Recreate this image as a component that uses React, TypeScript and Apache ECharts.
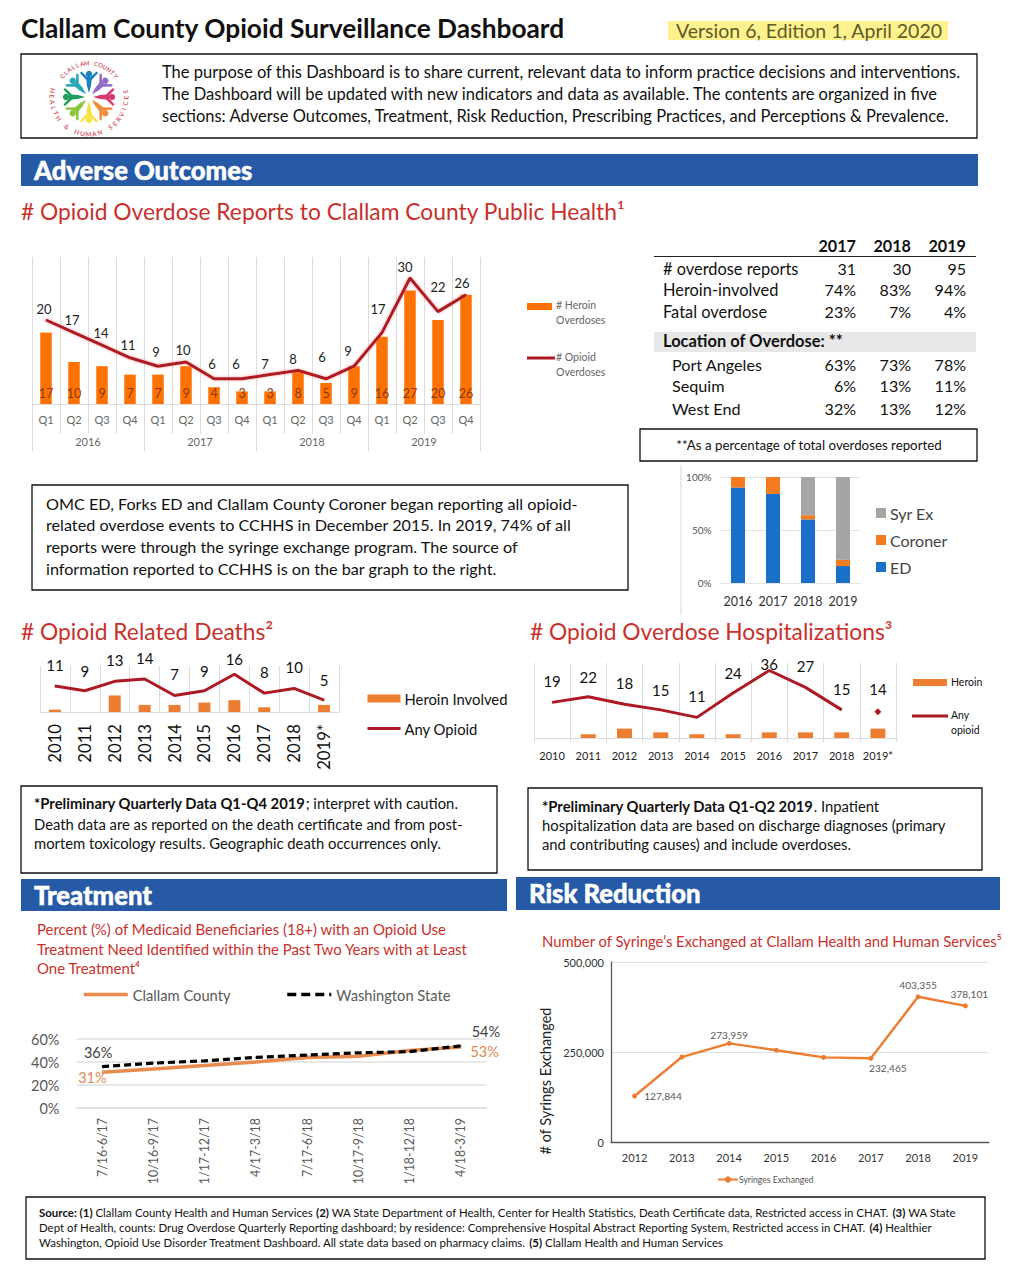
import React, { useEffect, useRef } from "react";
import * as echarts from "echarts";

const F = "Lato, 'Noto Sans', sans-serif";

// ---- data ----
const quarters = ["Q1","Q2","Q3","Q4","Q1","Q2","Q3","Q4","Q1","Q2","Q3","Q4","Q1","Q2","Q3","Q4"];
const overdoseYears = ["2016","2017","2018","2019"];
const heroinOverdoses = [17,10,9,7,7,9,4,3,3,8,5,9,16,27,20,26];
const opioidOverdoses = [20,17,14,11,9,10,6,6,7,8,6,9,17,30,22,26];
const sourceYears = ["2016","2017","2018","2019"];
const sourceED = [90,84,60,16];
const sourceCoroner = [10,16,4,6];
const sourceSyrEx = [0,0,36,78];
const deathYears = ["2010","2011","2012","2013","2014","2015","2016","2017","2018","2019*"];
const deathsHeroin = [1,0,7,3,3,4,5,2,0,3];
const deathsOpioid = [11,9,13,14,7,9,16,8,10,5];
const hospYears = ["2010","2011","2012","2013","2014","2015","2016","2017","2018","2019*"];
const hospHeroin = [0,2,5,3,2,2,3,3,3,5];
const hospOpioid = [19,22,18,15,11,24,36,27,15,null];
const hospPrelim = [null,null,null,null,null,null,null,null,null,14];
const treatPeriods = ["7/16-6/17","10/16-9/17","1/17-12/17","4/17-3/18","7/17-6/18","10/17-9/18","1/18-12/18","4/18-3/19"];
const treatClallam = [31,34,37,40,44,45,50,53];
const treatWA = [36,39,41,44,46,48,49,54];
const syringeYears = ["2012","2013","2014","2015","2016","2017","2018","2019"];
const syringes = [127844,236000,273959,255000,235000,232465,403355,378101];
const tableYears = ["2017","2018","2019"];
const tableTop = [
  ["# overdose reports","31","30","95"],
  ["Heroin-involved","74%","83%","94%"],
  ["Fatal overdose","23%","7%","4%"],
];
const tableLoc = [
  ["Port Angeles","63%","73%","78%"],
  ["Sequim","6%","13%","11%"],
  ["West End","32%","13%","12%"],
];
const introLines = [
  "The purpose of this Dashboard is to share current, relevant data to inform practice decisions and interventions.",
  "The Dashboard will be updated with new indicators and data as available. The contents are organized in five",
  "sections: Adverse Outcomes, Treatment, Risk Reduction, Prescribing Practices, and Perceptions & Prevalence.",
];
const omcLines = [
  "OMC ED, Forks ED and Clallam County Coroner began reporting all opioid-",
  "related overdose events to CCHHS in December 2015. In 2019, 74% of all",
  "reports were through the syringe exchange program. The source of",
  "information reported to CCHHS is on the bar graph to the right.",
];
const deathNotes = [
  "Death data are as reported on the death certificate and from post-",
  "mortem toxicology results. Geographic death occurrences only.",
];
const hospNotes = [
  "hospitalization data are based on discharge diagnoses (primary",
  "and contributing causes) and include overdoses.",
];
const treatHeading = [
  "Percent (%) of Medicaid Beneficiaries (18+) with an Opioid Use",
  "Treatment Need Identified within the Past Two Years with at Least",
  "One Treatment\u2074",
];

// ---- label placement (style only) ----
const odLabelDx = [-2,-2,-1,-2,-2,-3,-2,-6,-5,-5,-4,-6,-4,-5,0,-4];
const odLabelDy = [12,14,13,14,15,13,16,16,12,12,23,16,25,12,26,13];
const hospLabelDy = [21,20,21,20,21,20,7,21,21];
const deathLabelDy = [0,1,0,0,0,1,6,0,0,1];

// ---- colours ----
const RED = "#ad1a24";
const BLUE_BAND = "#2659a6";
const HEAD_RED = "#c9302c";
const ORANGE = "#ed7d31";
const CLALLAM = "#e88b4f";
const HIDE_SYMBOL = { color: "transparent", borderWidth: 0 };

const T = (text: string, x: number, y: number, size: number, o: any = {}) => ({
  type: "text", x, y: y - 0.8, silent: true,
  style: { text, fontSize: size, fontFamily: F, fill: "#111", textAlign: "left", textVerticalAlign: "middle", align: "left", verticalAlign: "middle", ...o },
});
const TR = (text: string, x: number, y: number, size: number, o: any = {}) =>
  T(text, x, y, size, { textAlign: "right", align: "right", ...o });
const Box = (x1: number, y1: number, x2: number, y2: number, o: any = {}) => ({
  type: "rect", silent: true, shape: { x: x1, y: y1, width: x2 - x1, height: y2 - y1 },
  style: { fill: "none", stroke: "#111", lineWidth: 1.3, ...o },
});
const Band = (x1: number, y1: number, x2: number, y2: number, text: string, tx: number) => [
  Box(x1, y1, x2, y2, { fill: BLUE_BAND, stroke: "none" }),
  T(text, tx, (y1 + y2) / 2 + 0.5, 25.6, { fill: "#fff", fontWeight: 900, stroke: "#fff", lineWidth: 0.5 }),
];
const L = (x1: number, y1: number, x2: number, y2: number, stroke: string, lineWidth: number) => ({
  type: "line", silent: true, shape: { x1, y1, x2, y2 }, style: { stroke, lineWidth },
});

function logo(cx: number, cy: number) {
  const colors = ["#1d7fbe","#8f6bc9","#d6396b","#f08a3c","#f7e145","#8cc63f","#1d9e5f","#27a6b8"];
  const els: any[] = [];
  colors.forEach((c, i) => {
    els.push({
      type: "group", x: cx, y: cy, rotation: (-i * Math.PI) / 4, silent: true,
      children: [
        { type: "circle", shape: { cx: 0, cy: -23, r: 3.2 }, style: { fill: c } },
        { type: "polygon", shape: { points: [[0,-4],[-2,-11],[-2.6,-17],[-9,-24],[-7.5,-25.5],[-1.5,-20],[1.5,-20],[7.5,-25.5],[9,-24],[2.6,-17],[2,-11]] }, style: { fill: c } },
      ],
    });
  });
  const arc = (s: string, r: number, a0: number, a1: number, bottom: boolean, size: number) => {
    [...s].forEach((ch, i) => {
      const a = ((a0 + ((a1 - a0) * i) / (s.length - 1)) * Math.PI) / 180;
      els.push({
        type: "text", silent: true,
        x: cx + r * Math.sin(a), y: bottom ? cy + r * Math.cos(a) : cy - r * Math.cos(a),
        rotation: bottom ? a : -a,
        style: { text: ch, fontSize: size, fontWeight: 700, fontFamily: F, fill: "#d4616f", textAlign: "center", align: "center", textVerticalAlign: "middle", verticalAlign: "middle" },
      });
    });
  };
  arc("CLALLAM COUNTY", 34, -52, 52, false, 6);
  arc("HEALTH & HUMAN SERVICES", 37, -100, 98, true, 6.4);
  return els;
}

function buildGraphic() {
  const e: any[] = [];
  // header
  e.push(T("Clallam County Opioid Surveillance Dashboard", 21, 29, 26.3, { fontWeight: 700 }));
  e.push(Box(668, 21, 948, 40, { fill: "#fdf28e", stroke: "none" }));
  e.push(T("Version 6, Edition 1, April 2020", 676, 31, 19.5, { fill: "#5f5a2a" }));
  e.push(Box(21, 54, 977, 138));
  e.push(...logo(89, 97));
  introLines.forEach((s, i) => e.push(T(s, 162, 72.8 + i * 22, 16.5)));
  e.push(...Band(21, 154, 978, 186, "Adverse Outcomes", 34));
  e.push(T("# Opioid Overdose Reports to Clallam County Public Health\u00b9", 21, 212, 22.8, { fill: HEAD_RED }));

  // chart 1 legend
  e.push(Box(527, 303, 552, 310, { fill: "#ff7200", stroke: "none" }));
  e.push(T("# Heroin", 556, 306, 10.5, { fill: "#666" }), T("Overdoses", 556, 321, 10.5, { fill: "#666" }));
  e.push(L(527, 358, 555, 358, RED, 3));
  e.push(T("# Opioid", 556, 358, 10.5, { fill: "#666" }), T("Overdoses", 556, 373, 10.5, { fill: "#666" }));

  // table
  const cols = [856, 911, 966];
  tableYears.forEach((y, i) => e.push(TR(y, cols[i], 246, 16.2, { fontWeight: 700 })));
  e.push(L(654, 256.5, 976, 256.5, "#222", 1));
  tableTop.forEach((r, i) => {
    const y = [269, 290, 312][i];
    e.push(T(r[0], 663, y, 16.4));
    r.slice(1).forEach((v, j) => e.push(TR(v, cols[j], y, 16)));
  });
  e.push(Box(654, 332, 976, 352, { fill: "#e8e8e8", stroke: "none" }));
  e.push(T("Location of Overdose: **", 663, 342, 16.5, { fontWeight: 700 }));
  tableLoc.forEach((r, i) => {
    const y = [365, 386, 409][i];
    e.push(T(r[0], 672, y, 16.2));
    r.slice(1).forEach((v, j) => e.push(TR(v, cols[j], y, 16)));
  });
  e.push(Box(640, 429, 977, 461));
  e.push(T("**As a percentage of total overdoses reported", 809, 446, 13.3, { textAlign: "center", align: "center" }));

  // OMC box
  e.push(Box(32, 485, 628, 590));
  omcLines.forEach((s, i) => e.push(T(s, 46, 504 + i * 21.6, 16.2)));
  e.push(L(681, 465, 681, 615, "#d9d9d9", 1));

  // deaths / hospitalization headings
  e.push(T("# Opioid Related Deaths\u00b2", 21, 632, 22.8, { fill: HEAD_RED }));
  e.push(T("# Opioid Overdose Hospitalizations\u00b3", 530, 632, 22.8, { fill: HEAD_RED }));

  // hospital legend
  e.push(Box(913, 679, 947, 686, { fill: ORANGE, stroke: "none" }));
  e.push(T("Heroin", 951, 683, 10.5));
  e.push(L(912, 716, 948, 716, RED, 3));
  e.push(T("Any", 951, 716, 10.5), T("opioid", 951, 731, 10.5));

  // notes
  const NS = 14.8;
  const rich = { b: { fontWeight: 700, fontSize: NS, fontFamily: F, fill: "#111" }, r: { fontSize: NS, fontFamily: F, fill: "#111" } };
  e.push(Box(21, 786, 497, 873));
  e.push(T("{b|*Preliminary Quarterly Data Q1-Q4 2019}{r|; interpret with caution.}", 34, 804, NS, { rich }));
  deathNotes.forEach((s, i) => e.push(T(s, 34, 825 + i * 18.5, NS)));
  e.push(Box(528, 788, 982, 870));
  e.push(T("{b|*Preliminary Quarterly Data Q1-Q2 2019}{r|. Inpatient}", 542, 807, NS, { rich }));
  hospNotes.forEach((s, i) => e.push(T(s, 542, 826 + i * 19, NS)));

  // lower sections
  e.push(...Band(21, 879, 507, 911, "Treatment", 34));
  e.push(...Band(516, 877, 1000, 910, "Risk Reduction", 529));
  treatHeading.forEach((s, i) => e.push(T(s, 37, 930 + i * 19.5, 14.95, { fill: HEAD_RED })));
  e.push(T("Number of Syringe\u2019s Exchanged at Clallam Health and Human Services\u2075", 542, 942, 14.8, { fill: HEAD_RED }));
  e.push({
    type: "text", silent: true, x: 545, y: 1081, rotation: Math.PI / 2,
    style: { text: "# of Syrings Exchanged", fontSize: 14.5, fontFamily: F, fill: "#222", textAlign: "center", align: "center", textVerticalAlign: "middle", verticalAlign: "middle" },
  });

  // source box
  e.push(Box(26, 1197, 985, 1259));
  const SS = 11.45;
  const sr = { b: { fontWeight: 700, fontSize: SS, fontFamily: F, fill: "#111" }, r: { fontSize: SS, fontFamily: F, fill: "#111" } };
  e.push(T("{b|Source: (1)}{r| Clallam County Health and Human Services }{b|(2)}{r| WA State Department of Health, Center for Health Statistics, Death Certificate data, Restricted access in CHAT. }{b|(3)}{r| WA State}", 39, 1213, SS, { rich: sr }));
  e.push(T("{r|Dept of Health, counts: Drug Overdose Quarterly Reporting dashboard; by residence: Comprehensive Hospital Abstract Reporting System, Restricted access in CHAT. }{b|(4)}{r| Healthier}", 39, 1228, SS, { rich: sr }));
  e.push(T("{r|Washington, Opioid Use Disorder Treatment Dashboard. All state data based on pharmacy claims. }{b|(5)}{r| Clallam Health and Human Services}", 39, 1243, SS, { rich: sr }));
  return e;
}

function buildOption(): any {
  const GRID = "#dcdcdc";
  const hideY = (gridIndex: number, max: number) => ({
    type: "value", gridIndex, min: 0, max, show: false, splitLine: { show: false },
  });
  const catX = (gridIndex: number, data: string[], label: any, extra: any = {}) => ({
    type: "category", gridIndex, data, boundaryGap: true, position: "bottom",
    axisLine: { show: true, lineStyle: { color: GRID, width: 1.2 } },
    axisTick: { show: false },
    axisLabel: { interval: 0, fontFamily: F, hideOverlap: false, ...label },
    ...extra,
  });
  const vLines = { show: true, interval: 0, lineStyle: { color: GRID, width: 1 } };

  return {
    animation: false,
    backgroundColor: "#fff",
    textStyle: { fontFamily: F },
    graphic: { elements: buildGraphic() },
    grid: [
      { left: 32, top: 257, width: 448, height: 147 },
      { left: 720.5, top: 477, width: 140, height: 106 },
      { left: 40, top: 666, width: 299, height: 46 },
      { left: 534, top: 663, width: 362, height: 75 },
      { left: 76.5, top: 1039, width: 410, height: 69 },
      { left: 611, top: 962, width: 378, height: 180 },
    ],
    xAxis: [
      catX(0, quarters, { fontSize: 11, color: "#666", margin: 10 }, {
        splitLine: vLines, axisTick: { show: true, length: 30, alignWithLabel: false, interval: 0, lineStyle: { color: GRID } },
      }),
      catX(0, overdoseYears, { fontSize: 11, color: "#666", margin: 32 }, {
        axisLine: { show: false }, axisTick: { show: true, length: 47, interval: 0, lineStyle: { color: GRID } },
      }),
      catX(1, sourceYears, { fontSize: 12.5, color: "#333", margin: 12 }, { axisLine: { show: true, lineStyle: { color: "#e4e4e4" } } }),
      catX(2, deathYears, { fontSize: 16.7, color: "#111", rotate: 90, margin: 12 }, { splitLine: vLines }),
      catX(3, hospYears, { fontSize: 11, color: "#222", margin: 12 }, {
        splitLine: vLines, axisTick: { show: true, length: 4, interval: 0, lineStyle: { color: GRID } },
      }),
      catX(4, treatPeriods, { fontSize: 12.4, color: "#595959", rotate: 90, margin: 10 }, { axisLine: { show: true, lineStyle: { color: "#e0e0e0", width: 1.5 } } }),
      catX(5, syringeYears, { fontSize: 11, color: "#333", margin: 9.5 }, { axisLine: { show: true, lineStyle: { color: "#595959", width: 1.3 } } }),
    ],
    yAxis: [
      hideY(0, 35),
      {
        type: "value", gridIndex: 1, min: 0, max: 100, interval: 50,
        axisLine: { show: false }, axisTick: { show: false },
        axisLabel: { formatter: "{value}%", fontSize: 10, color: "#555", margin: 9, fontFamily: F },
        splitLine: { lineStyle: { color: "#e4e4e4" } },
      },
      hideY(2, 19.5),
      hideY(3, 40),
      {
        type: "value", gridIndex: 4, min: 0, max: 60, interval: 20,
        axisLine: { show: false }, axisTick: { show: false },
        axisLabel: { formatter: "{value}%", fontSize: 14.5, color: "#595959", margin: 17, fontFamily: F },
        splitLine: { lineStyle: { color: "#e0e0e0", width: 1.5 } },
      },
      {
        type: "value", gridIndex: 5, min: 0, max: 500000, interval: 250000,
        axisLine: { show: true, lineStyle: { color: "#595959", width: 1.3 } }, axisTick: { show: false },
        axisLabel: { fontSize: 11, color: "#333", margin: 7, fontFamily: F, formatter: (v: number) => v.toLocaleString("en-US") },
        splitLine: { lineStyle: { color: "#dfe3e8" } },
      },
    ],
    legend: [
      {
        left: 871, top: 500, orient: "vertical", itemWidth: 10, itemHeight: 10, itemGap: 11,
        data: [{ name: "Syr Ex", icon: "rect" }, { name: "Coroner", icon: "rect" }, { name: "ED", icon: "rect" }],
        textStyle: { fontSize: 16, color: "#444", fontFamily: F, padding: [0, 0, 0, -1] },
      },
      {
        left: 361, top: 686, orient: "vertical", itemWidth: 33, itemHeight: 8, itemGap: 15,
        data: [{ name: "Heroin Involved", icon: "rect" }, { name: "Any Opioid", itemStyle: HIDE_SYMBOL, lineStyle: { width: 3 } }],
        textStyle: { fontSize: 14.8, color: "#111", fontFamily: F, padding: [0, 0, 0, -1] },
      },
      {
        left: 77, top: 982, itemWidth: 44, itemHeight: 14, itemGap: 55,
        data: [
          { name: "Clallam County", itemStyle: HIDE_SYMBOL, lineStyle: { width: 3.5 } },
          { name: "Washington State", itemStyle: HIDE_SYMBOL, lineStyle: { width: 3.5, type: [9, 5] } },
        ],
        textStyle: { fontSize: 14.7, color: "#595959", fontFamily: F },
      },
      {
        left: 712, top: 1170, itemWidth: 20, itemHeight: 8, itemGap: 0,
        data: ["Syringes Exchanged"],
        textStyle: { fontSize: 8.6, color: "#555", fontFamily: F, padding: [0, 0, 0, -4] },
      },
    ],
    series: [
      // chart 1
      {
        name: "# Heroin Overdoses", type: "bar", xAxisIndex: 0, yAxisIndex: 0, barWidth: 11.5,
        data: heroinOverdoses, itemStyle: { color: "#ff7200" },
        label: { show: true, position: "insideBottom", distance: 4, fontSize: 12.5, color: "#8a3a10", fontFamily: F },
      },
      {
        name: "# Opioid Overdoses", type: "line", xAxisIndex: 0, yAxisIndex: 0, showSymbol: true, symbol: "circle", symbolSize: 1,
        lineStyle: { color: RED, width: 3, shadowColor: "rgba(255,120,120,0.7)", shadowBlur: 3 },
        itemStyle: { color: RED }, z: 5,
        data: opioidOverdoses.map((v, i) => ({
          value: v,
          label: { show: true, position: "top", distance: 0, offset: [odLabelDx[i], 8 - odLabelDy[i]], fontSize: 13, color: "#222", fontFamily: F },
        })),
      },
      // chart 2
      { name: "ED", type: "bar", stack: "src", xAxisIndex: 2, yAxisIndex: 1, barWidth: 14, data: sourceED, itemStyle: { color: "#1a70c8" } },
      { name: "Coroner", type: "bar", stack: "src", xAxisIndex: 2, yAxisIndex: 1, barWidth: 14, data: sourceCoroner, itemStyle: { color: "#f47b20" } },
      { name: "Syr Ex", type: "bar", stack: "src", xAxisIndex: 2, yAxisIndex: 1, barWidth: 14, data: sourceSyrEx, itemStyle: { color: "#a5a5a5" } },
      // chart 3
      { name: "Heroin Involved", type: "bar", xAxisIndex: 3, yAxisIndex: 2, barWidth: 12, data: deathsHeroin, itemStyle: { color: ORANGE } },
      {
        name: "Any Opioid", type: "line", xAxisIndex: 3, yAxisIndex: 2, symbol: "circle", symbolSize: 1, showSymbol: true, z: 5,
        lineStyle: { color: RED, width: 3 }, itemStyle: { color: RED },
        data: deathsOpioid.map((v, i) => ({
          value: v,
          label: { show: true, position: "top", distance: 13, offset: [0, deathLabelDy[i]], fontSize: 15, color: "#111", fontFamily: F },
        })),
      },
      // chart 4
      { name: "Heroin", type: "bar", xAxisIndex: 4, yAxisIndex: 3, barWidth: 15, data: hospHeroin, itemStyle: { color: ORANGE } },
      {
        name: "Any opioid", type: "line", xAxisIndex: 4, yAxisIndex: 3, symbol: "circle", symbolSize: 1, showSymbol: true, z: 5, connectNulls: false,
        lineStyle: { color: RED, width: 3 }, itemStyle: { color: RED },
        data: hospOpioid.map((v, i) => v == null ? { value: null } : ({
          value: v,
          label: { show: true, position: "top", distance: 0, offset: [0, 8 - hospLabelDy[i]], fontSize: 15, color: "#111", fontFamily: F },
        })),
      },
      {
        name: "Any opioid (preliminary)", type: "line", xAxisIndex: 4, yAxisIndex: 3, symbol: "diamond", symbolSize: 7, showSymbol: true, z: 5,
        lineStyle: { width: 0 }, itemStyle: { color: RED }, data: hospPrelim,
        label: { show: true, position: "top", distance: 0, offset: [0, -12], fontSize: 15, color: "#111", fontFamily: F },
      },
      // chart 5
      {
        name: "Clallam County", type: "line", xAxisIndex: 5, yAxisIndex: 4, symbol: "circle", symbolSize: 1, showSymbol: true, z: 4,
        lineStyle: { color: CLALLAM, width: 3.5 }, itemStyle: { color: CLALLAM },
        data: treatClallam.map((v, i) => {
          const last = i === treatClallam.length - 1;
          return (i === 0 || last) ? {
            value: v,
            label: { show: true, position: last ? "right" : "left", distance: 0, offset: last ? [9, 4] : [5, 5], formatter: "{c}%", fontSize: 14.5, color: "#e08a50", fontFamily: F },
          } : { value: v };
        }),
      },
      {
        name: "Washington State", type: "line", xAxisIndex: 5, yAxisIndex: 4, symbol: "circle", symbolSize: 1, showSymbol: true, z: 5,
        lineStyle: { color: "#000", width: 3.2, type: [7, 4] }, itemStyle: { color: "#000" },
        data: treatWA.map((v, i) => {
          const last = i === treatWA.length - 1;
          return (i === 0 || last) ? {
            value: v,
            label: { show: true, position: "top", distance: 0, offset: last ? [25, -6] : [-4, -6], formatter: "{c}%", fontSize: 14.5, color: "#404040", fontFamily: F },
          } : { value: v };
        }),
      },
      // chart 6
      {
        name: "Syringes Exchanged", type: "line", xAxisIndex: 6, yAxisIndex: 5, symbol: "circle", symbolSize: 5, showSymbol: true,
        lineStyle: { color: ORANGE, width: 2.4 }, itemStyle: { color: ORANGE },
        data: syringes.map((v, i) => {
          const lab: any = { 0: { position: "right", distance: 7, offset: [0, 0] }, 2: { position: "top", distance: 1 }, 5: { position: "bottom", distance: 2, offset: [17, 0] }, 6: { position: "top", distance: 4 }, 7: { position: "top", distance: 4, offset: [4, 0] } }[i];
          return lab ? {
            value: v,
            label: { show: true, fontSize: 10.2, color: "#595959", fontFamily: F, formatter: (p: any) => Number(p.value).toLocaleString("en-US"), ...lab },
          } : { value: v };
        }),
      },
    ],
  };
}

export default function App() {
  const ref = useRef<HTMLDivElement>(null);
  useEffect(() => {
    document.body.style.margin = "0";
    const chart = echarts.init(ref.current!, null, { renderer: "svg" });
    chart.setOption(buildOption());
    return () => chart.dispose();
  }, []);
  return <div ref={ref} style={{ position: "absolute", left: 0, top: 0, width: 1016, height: 1284 }} />;
}
